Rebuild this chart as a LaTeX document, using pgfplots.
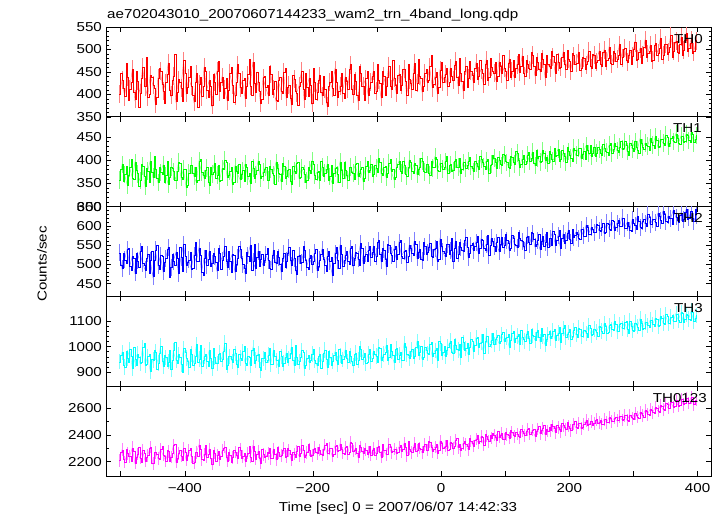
\documentclass[border=0pt]{standalone}
\usepackage{fontspec}
\setmainfont{Liberation Sans}
\usepackage{pgfplots}
\usepackage{pgfplotstable}
\pgfplotsset{compat=1.18}
\definecolor{qred}{RGB}{255,0,0}
\definecolor{qgreen}{RGB}{0,255,0}
\definecolor{qblue}{RGB}{0,0,255}
\definecolor{qcyan}{RGB}{0,255,255}
\definecolor{qmag}{RGB}{255,0,255}
\definecolor{lred}{RGB}{255,128,128}
\definecolor{lgreen}{RGB}{128,255,128}
\definecolor{lblue}{RGB}{128,128,255}
\definecolor{lcyan}{RGB}{128,255,255}
\definecolor{lmag}{RGB}{255,128,255}
\pgfplotstableread{
t a b c d e
-502 401 358 530 941 2210
-500 446 381 497 968 2268
-498 432 391 489 978 2290
-496 413 354 528 929 2221
-494 395 369 512 921 2198
-492 470 388 504 983 2292
-490 438 347 540 955 2262
-488 387 367 541 941 2243
-486 412 384 495 988 2241
-484 428 402 486 962 2204
-482 456 362 521 917 2305
-480 405 359 517 997 2281
-478 389 395 478 949 2189
-476 451 378 530 926 2237
-474 429 371 509 972 2258
-472 372 345 493 958 2310
-470 403 356 533 934 2227
-468 436 391 548 940 2195
-466 461 388 502 996 2283
-464 418 366 499 1011 2266
-462 417 343 486 928 2204
-460 483 383 517 931 2232
-458 394 377 527 961 2246
-456 401 352 476 969 2299
-454 443 399 511 903 2312
-452 437 375 534 952 2188
-450 421 364 469 948 2187
-448 414 408 510 986 2275
-446 378 381 538 979 2269
-444 393 361 551 913 2253
-442 436 352 497 937 2223
-440 458 386 488 975 2219
-438 452 374 523 1002 2294
-436 423 370 522 942 2317
-434 407 390 481 925 2251
-432 380 353 505 966 2241
-430 426 367 515 958 2206
-428 445 397 539 925 2284
-426 469 349 544 941 2278
-424 409 364 467 984 2201
-422 398 385 492 912 2235
-420 431 382 526 946 2262
-418 441 376 508 984 2322
-416 490 357 498 1017 2335
-414 385 358 531 947 2197
-412 404 376 517 934 2226
-410 433 396 476 969 2263
-408 426 393 545 958 2289
-406 414 363 519 931 2244
-404 384 360 483 901 2209
-402 475 381 553 993 2301
-400 447 381 520 977 2273
-398 402 341 499 956 2212
-396 415 346 506 944 2248
-394 437 372 512 918 2286
-392 463 389 532 989 2304
-390 418 389 488 971 2239
-388 398 372 491 927 2186
-386 384 366 524 936 2194
-384 427 385 557 962 2269
-382 446 352 507 1009 2271
-380 372 356 509 939 2238
-378 423 398 543 951 2327
-376 439 403 525 1005 2296
-374 395 375 479 924 2218
-372 417 368 471 948 2213
-370 461 361 516 963 2259
-368 452 379 538 971 2322
-366 409 384 498 942 2235
-364 393 352 514 923 2257
-362 431 347 535 987 2297
-360 419 386 496 956 2229
-358 376 370 502 915 2183
-356 445 374 529 994 2287
-354 427 393 521 958 2264
-352 401 362 505 936 2201
-350 451 368 484 934 2247
-348 474 389 543 969 2278
-346 406 355 529 976 2216
-344 427 358 487 942 2244
-342 439 382 511 949 2283
-340 392 380 520 982 2303
-338 413 401 546 1014 2311
-336 436 396 509 911 2231
-334 386 364 493 927 2205
-332 410 367 534 964 2270
-330 448 376 508 962 2249
-328 461 384 480 950 2195
-326 421 349 527 941 2232
-324 383 353 523 989 2285
-322 397 387 482 973 2274
-320 428 377 501 933 2252
-318 466 371 517 918 2228
-316 446 392 548 972 2309
-314 415 359 539 955 2290
-312 403 369 515 945 2227
-310 432 378 501 981 2241
-308 435 355 490 1001 2264
-306 391 392 476 937 2207
-304 418 384 531 929 2241
-302 444 366 522 964 2266
-300 478 371 507 958 2319
-298 419 351 549 926 2235
-296 397 399 486 986 2207
-294 472 383 507 995 2318
-292 424 362 552 937 2276
-290 404 369 491 948 2221
-288 449 378 519 968 2255
-286 428 397 533 972 2276
-284 406 391 495 920 2229
-282 381 362 514 909 2189
-280 388 365 527 954 2292
-278 437 375 497 953 2253
-276 441 380 510 977 2236
-274 416 386 526 940 2238
-272 420 357 541 946 2271
-270 398 357 511 967 2262
-268 463 387 489 993 2298
-266 445 381 488 931 2223
-264 401 373 523 931 2224
-262 412 368 536 984 2295
-260 429 349 506 964 2260
-258 386 395 502 946 2217
-256 384 382 534 948 2309
-254 431 372 519 922 2271
-252 437 369 501 982 2243
-250 407 354 482 961 2246
-248 402 393 517 925 2285
-246 449 388 528 937 2302
-244 458 361 492 960 2230
-242 393 366 509 976 2238
-240 416 378 529 939 2301
-238 421 381 544 953 2283
-236 391 355 511 973 2256
-234 378 349 497 998 2214
-232 443 387 538 945 2274
-230 434 377 515 929 2257
-228 408 371 485 1004 2237
-226 402 393 475 960 2279
-224 375 396 520 932 2316
-222 418 361 523 942 2243
-220 427 364 503 957 2262
-218 452 384 506 985 2321
-216 412 380 546 978 2288
-214 389 370 538 917 2236
-212 446 352 512 929 2251
-210 415 356 493 956 2268
-208 396 385 487 966 2329
-206 436 379 517 938 2290
-204 421 373 524 948 2242
-202 381 398 501 971 2247
-200 459 391 508 990 2297
-198 426 367 530 945 2305
-196 388 360 539 937 2270
-194 405 374 486 926 2262
-192 432 377 495 961 2311
-190 442 358 512 969 2288
-188 405 398 527 915 2255
-186 397 386 540 942 2251
-184 440 366 514 974 2293
-182 411 372 498 987 2327
-180 383 381 481 952 2338
-178 373 391 521 921 2263
-176 417 357 535 983 2267
-174 428 365 507 958 2299
-172 451 389 519 929 2301
-170 414 350 473 944 2242
-168 398 372 502 965 2259
-166 455 383 529 979 2318
-164 426 384 544 947 2324
-162 394 369 511 933 2276
-160 408 353 489 991 2283
-158 419 396 549 966 2334
-156 447 379 526 936 2297
-154 403 362 495 949 2265
-152 392 395 510 962 2255
-150 438 379 524 987 2306
-148 430 368 533 954 2319
-146 412 357 508 941 2257
-144 457 386 501 980 2271
-142 466 385 541 963 2345
-140 411 375 546 942 2336
-138 401 373 497 926 2281
-136 444 359 517 969 2289
-134 429 391 532 975 2298
-132 397 393 529 931 2267
-130 386 366 514 948 2236
-128 462 371 498 1003 2325
-126 447 380 555 991 2312
-124 419 385 542 950 2278
-122 418 355 503 957 2263
-120 386 362 521 976 2301
-118 435 388 527 934 2290
-116 452 397 507 941 2259
-114 399 374 536 972 2274
-112 414 378 548 989 2317
-110 427 392 518 944 2249
-108 440 365 532 955 2283
-106 451 369 546 981 2301
-104 403 389 509 972 2246
-102 408 383 521 963 2262
-100 468 374 557 938 2306
-98 431 405 563 999 2318
-96 425 396 526 993 2271
-94 394 371 509 946 2237
-92 451 367 541 959 2335
-90 440 386 538 972 2286
-88 397 388 514 977 2284
-86 419 363 495 1004 2253
-84 437 373 553 947 2259
-82 463 394 551 958 2329
-80 418 402 529 1008 2312
-78 412 377 524 981 2270
-76 476 381 509 965 2276
-74 436 359 540 939 2294
-72 421 364 546 989 2297
-70 402 385 513 993 2261
-68 442 392 527 951 2268
-66 445 398 557 967 2312
-64 409 376 562 978 2325
-62 421 372 522 948 2276
-60 455 399 515 946 2291
-58 457 389 534 1011 2339
-56 430 369 538 996 2307
-54 398 366 506 972 2248
-52 467 384 520 967 2353
-50 433 401 549 954 2297
-48 424 395 542 982 2281
-46 412 377 528 989 2270
-44 447 373 525 954 2309
-42 469 393 561 963 2336
-40 409 389 552 998 2278
-38 425 370 517 1019 2285
-36 478 380 531 966 2341
-34 441 386 539 977 2302
-32 436 404 514 1001 2296
-30 406 399 511 952 2268
-28 419 377 558 958 2319
-26 448 375 547 996 2330
-24 455 392 527 987 2284
-22 427 391 532 973 2289
-20 431 371 545 971 2352
-18 462 368 556 1008 2347
-16 486 397 521 1017 2307
-14 415 384 518 961 2276
-12 422 386 539 975 2294
-10 439 407 541 985 2312
-8 449 403 561 992 2331
-6 403 379 507 947 2264
-4 416 376 514 1021 2287
-2 454 394 566 1012 2355
0 471 394 548 968 2340
2 428 381 534 979 2303
4 437 385 530 1000 2310
6 445 397 520 963 2318
8 458 409 553 984 2361
10 417 372 552 998 2289
12 426 390 526 1013 2297
14 459 391 536 1021 2349
16 441 377 568 979 2336
18 432 378 509 975 2298
20 464 399 541 1028 2318
22 474 402 561 1005 2364
24 438 385 517 991 2373
26 421 386 527 986 2306
28 480 404 557 1009 2329
30 448 371 545 959 2284
32 429 381 538 1036 2305
34 409 395 534 1016 2338
36 452 396 563 985 2351
38 463 383 571 992 2329
40 416 389 544 1014 2319
42 436 398 518 969 2292
44 473 407 529 996 2375
46 451 388 549 1027 2357
48 443 383 556 1022 2341
50 428 376 537 981 2318
52 458 399 548 1006 2361
54 469 394 558 1033 2372
56 434 387 572 1037 2396
58 441 381 529 997 2341
60 475 409 541 1013 2352
62 455 403 566 1018 2389
64 447 395 563 1049 2384
66 422 387 541 976 2326
68 466 381 538 1021 2410
70 476 398 552 1042 2395
72 432 402 575 1040 2371
74 438 373 524 1001 2352
76 480 390 549 1008 2399
78 461 392 569 1024 2378
80 452 411 560 1051 2417
82 447 405 546 1009 2402
84 471 396 533 1027 2383
86 429 383 557 1036 2361
88 441 407 571 1044 2426
90 472 401 534 1013 2387
92 463 392 553 1019 2398
94 446 389 571 1047 2414
96 488 414 544 1056 2372
98 458 412 549 1021 2369
100 451 399 578 1031 2419
102 431 395 562 1038 2403
104 469 386 556 1048 2397
106 479 383 538 999 2378
108 439 408 541 1024 2434
110 451 407 576 1052 2425
112 476 395 569 1059 2401
114 437 392 553 1017 2391
116 458 419 551 1032 2422
118 466 416 544 1041 2409
120 490 401 583 1047 2395
122 449 386 568 1009 2382
124 462 392 562 1065 2441
126 484 403 559 1036 2432
128 447 411 548 1028 2417
130 441 391 537 1022 2396
132 475 398 571 1049 2432
134 468 411 574 1058 2441
136 459 417 558 1031 2455
138 455 397 552 1011 2407
140 494 404 583 1066 2419
142 487 418 581 1044 2438
144 463 393 566 1041 2447
146 443 389 546 1026 2395
148 482 422 552 1057 2429
150 471 405 563 1063 2447
152 457 409 578 1035 2463
154 452 396 539 1019 2412
156 491 397 561 1072 2436
158 479 421 572 1039 2451
160 468 415 548 1046 2471
162 438 401 558 1007 2403
164 486 406 583 1029 2442
166 467 393 545 1048 2429
168 462 419 567 1061 2458
170 459 413 567 1033 2436
172 497 402 551 1040 2484
174 484 399 585 1061 2467
176 471 425 579 1069 2449
178 447 408 551 1024 2418
180 489 410 562 1045 2475
182 472 424 574 1052 2459
184 458 397 588 1077 2442
186 461 402 543 1017 2426
188 482 421 569 1052 2487
190 493 415 579 1071 2474
192 467 409 554 1083 2459
194 456 396 562 1038 2441
196 499 428 582 1047 2493
198 478 419 588 1055 2469
200 474 412 566 1068 2455
202 451 405 556 1029 2433
204 491 398 590 1042 2479
206 486 427 571 1063 2482
208 468 422 575 1074 2502
210 469 411 583 1046 2457
212 469 410 579 1038 2451
214 493 426 567 1072 2491
216 454 427 566 1067 2486
218 458 404 591 1039 2448
220 483 414 590 1042 2460
222 481 419 574 1065 2482
224 457 403 572 1059 2493
226 466 432 602 1051 2509
228 474 422 597 1035 2472
230 497 415 579 1083 2478
232 462 433 578 1071 2504
234 459 409 596 1044 2501
236 489 416 591 1046 2477
238 487 428 584 1069 2487
240 458 408 583 1064 2513
242 472 416 603 1057 2516
244 477 428 602 1041 2489
246 495 423 588 1078 2493
248 466 415 586 1075 2508
250 463 412 597 1061 2484
252 494 434 607 1051 2483
254 499 427 581 1089 2519
256 463 420 583 1079 2520
258 475 418 608 1052 2496
260 481 411 604 1056 2496
262 506 433 592 1081 2531
264 469 436 589 1085 2527
266 468 415 614 1066 2502
268 497 423 612 1062 2501
270 492 437 589 1097 2527
272 473 430 596 1088 2536
274 479 421 607 1058 2508
276 486 418 614 1059 2509
278 511 429 598 1086 2541
280 468 441 599 1092 2543
282 482 424 621 1071 2515
284 501 427 621 1070 2517
286 503 441 594 1094 2547
288 477 433 593 1097 2548
290 472 419 609 1068 2512
292 488 412 599 1050 2502
294 498 436 588 1099 2549
296 466 433 587 1078 2531
298 485 425 616 1063 2524
300 501 420 606 1059 2516
302 515 441 601 1091 2562
304 477 428 591 1086 2552
306 478 422 625 1077 2535
308 493 416 613 1063 2524
310 502 446 597 1108 2571
312 470 437 595 1091 2561
314 487 428 612 1069 2547
316 504 424 618 1070 2537
318 521 437 606 1096 2583
320 482 432 600 1096 2576
322 491 431 629 1081 2556
324 496 421 623 1074 2550
326 509 448 603 1103 2594
328 474 440 603 1102 2587
330 476 433 617 1086 2571
332 509 427 616 1079 2562
334 514 451 609 1112 2608
336 486 443 598 1106 2599
338 492 429 632 1079 2582
340 503 430 625 1082 2574
342 526 446 614 1118 2621
344 478 446 606 1111 2613
346 488 437 638 1092 2594
348 512 433 629 1086 2589
350 511 455 611 1124 2637
352 490 449 610 1117 2628
354 494 431 626 1089 2603
356 506 436 620 1092 2602
358 532 448 619 1115 2646
360 483 452 603 1123 2643
362 497 441 641 1098 2612
364 517 439 634 1098 2617
366 518 457 623 1127 2658
368 494 448 614 1126 2654
370 491 436 609 1101 2619
372 512 434 627 1094 2626
374 527 452 634 1132 2667
376 488 451 611 1130 2666
378 498 439 617 1094 2628
380 520 442 636 1106 2639
382 535 457 642 1125 2679
384 496 454 618 1123 2678
386 503 443 621 1107 2641
388 514 440 639 1101 2651
390 522 461 637 1139 2684
392 492 456 621 1134 2684
394 495 438 612 1098 2631
396 521 445 642 1112 2663
398 519 454 628 1121 2662
}\lc
\pgfplotsset{panel/.style={
  width=605bp, height=89.8bp, scale only axis, anchor=north west,
  xmin=-523, xmax=421,
  xtick={-500,-400,...,400},
  xticklabels={},
  tick align=inside,
  major tick length=5bp, minor tick length=2.5bp,
  axis line style={line width=0.8bp},
  tick style={black, line width=0.6bp},
  ticklabel style={font=\fontsize{13}{15}\selectfont, xscale=1.17},
  xticklabel style={yshift=-4bp},
  /pgf/number format/assume math mode=true,
  /pgf/number format/1000 sep={},
  clip=true,
}}
\begin{document}
\begin{tikzpicture}
\useasboundingbox (0,0) rectangle (724bp,-516bp);
\begin{axis}[panel, at={(106bp,-27bp)}, ymin=350, ymax=550, ytick={350,400,...,550}, minor y tick num=4]
\addplot[color=lred, line width=0.45bp, mark=none, forget plot, each nth point=2, error bars/.cd, y dir=both, y fixed=20, error mark=none, error bar style={draw=lred, color=lred, line width=0.45bp}] table[x=t,y=a]{\lc};
\addplot[qred, line width=0.5bp, const plot, mark=none] table[x=t,y=a]{\lc};
\end{axis}
\begin{axis}[panel, at={(106bp,-116.8bp)}, ymin=300, ymax=494, ytick={300,350,400,450}, minor y tick num=4]
\addplot[color=lgreen, line width=0.45bp, mark=none, forget plot, each nth point=2, error bars/.cd, y dir=both, y fixed=19, error mark=none, error bar style={draw=lgreen, color=lgreen, line width=0.45bp}] table[x=t,y=b]{\lc};
\addplot[qgreen, line width=0.5bp, const plot, mark=none] table[x=t,y=b]{\lc};
\end{axis}
\begin{axis}[panel, at={(106bp,-206.6bp)}, ymin=417, ymax=650, ytick={450,500,...,650}, minor y tick num=4]
\addplot[color=lblue, line width=0.45bp, mark=none, forget plot, each nth point=2, error bars/.cd, y dir=both, y fixed=22, error mark=none, error bar style={draw=lblue, color=lblue, line width=0.45bp}] table[x=t,y=c]{\lc};
\addplot[qblue, line width=0.5bp, const plot, mark=none] table[x=t,y=c]{\lc};
\end{axis}
\begin{axis}[panel, at={(106bp,-296.4bp)}, ymin=846, ymax=1195, ytick={900,1000,1100}, minor y tick num=4]
\addplot[color=lcyan, line width=0.45bp, mark=none, forget plot, each nth point=2, error bars/.cd, y dir=both, y fixed=30, error mark=none, error bar style={draw=lcyan, color=lcyan, line width=0.45bp}] table[x=t,y=d]{\lc};
\addplot[qcyan, line width=0.5bp, const plot, mark=none] table[x=t,y=d]{\lc};
\end{axis}
\begin{axis}[panel, at={(106bp,-386.2bp)}, ymin=2093, ymax=2767, ytick={2200,2400,2600}, minor y tick num=1,
  xticklabels={,−400,,−200,,0,,200,,400}]
\addplot[color=lmag, line width=0.45bp, mark=none, forget plot, each nth point=2, error bars/.cd, y dir=both, y fixed=47, error mark=none, error bar style={draw=lmag, color=lmag, line width=0.45bp}] table[x=t,y=e]{\lc};
\addplot[qmag, line width=0.5bp, const plot, mark=none] table[x=t,y=e]{\lc};
\end{axis}
\begin{scope}[every node/.style={font=\fontsize{13}{15}\selectfont, inner sep=0pt}]
\node[anchor=base west, xscale=1.17] at (107bp,-18.5bp) {ae702043010\_20070607144233\_wam2\_trn\_4band\_long.qdp};
\node[anchor=base east, xscale=1.17] at (703bp,-43bp) {TH0};
\node[anchor=base east, xscale=1.17] at (702bp,-132bp) {TH1};
\node[anchor=base east, xscale=1.17] at (703bp,-222bp) {TH2};
\node[anchor=base east, xscale=1.17] at (703bp,-312bp) {TH3};
\node[anchor=base east, xscale=1.17] at (707bp,-402bp) {TH0123};
\node[rotate=90, xscale=1.17] at (42bp,-264bp) {Counts/sec};
\node[anchor=base, xscale=1.17] at (398bp,-511.5bp) {Time [sec] 0 = 2007/06/07 14:42:33};
\end{scope}
\end{tikzpicture}
\end{document}
